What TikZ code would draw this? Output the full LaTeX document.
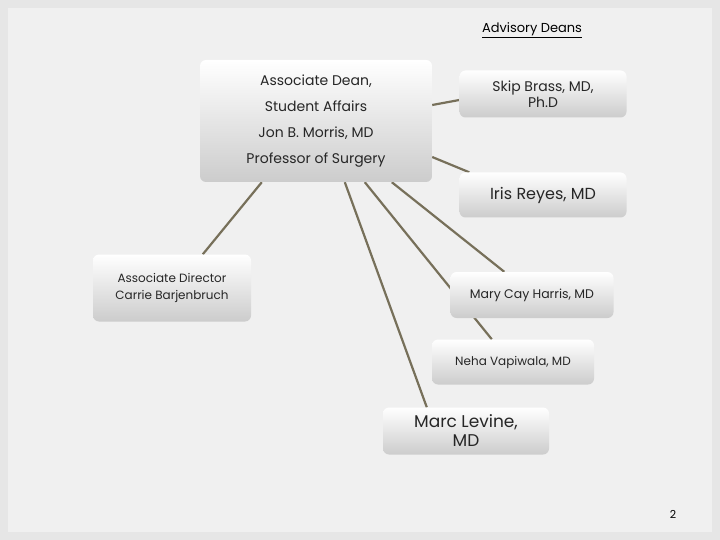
\documentclass[tikz,border=0pt]{standalone}
\usepackage{fontspec}
\setmainfont{Poppins}
\usetikzlibrary{backgrounds}
\pgfdeclarelayer{bottom}
\pgfsetlayers{bottom,background,main}
\definecolor{bg}{HTML}{E6E6E6}
\definecolor{ln}{HTML}{77705A}
\tikzset{
  box/.style={rounded corners=6pt, top color=white, bottom color=black!20, draw=none, align=center, inner sep=0pt, text=black!85},
  conn/.style={draw=ln, line width=2.2pt}
}
\begin{document}
\begin{tikzpicture}[x=1pt,y=-1pt]
\useasboundingbox (0,0) rectangle (720,540);
\begin{pgfonlayer}{bottom}
\fill[bg] (0,0) rectangle (720,540);
\fill[white!40!bg] (8,8) rectangle (712,532);
\end{pgfonlayer}
\node[font=\fontsize{13}{15}\selectfont] (title) at (532,30) {\underline{Advisory Deans}};
\node[box, minimum width=232pt, minimum height=122pt, font=\fontsize{14}{26}\selectfont] (main) at (316,121) {Associate Dean,\\Student Affairs\\Jon B. Morris, MD\\Professor of Surgery};
\node[box, minimum width=167pt, minimum height=47pt, font=\fontsize{14}{16}\selectfont] (skip) at (543,94) {Skip Brass, MD,\\Ph.D};
\node[box, minimum width=167pt, minimum height=45pt, font=\fontsize{16}{18}\selectfont] (iris) at (543,195) {Iris Reyes, MD};
\node[box, minimum width=158pt, minimum height=67pt, font=\fontsize{12}{17}\selectfont] (assoc) at (172,288) {Associate Director\\Carrie Barjenbruch};
\node[box, minimum width=163pt, minimum height=46pt, font=\fontsize{12.5}{15}\selectfont] (mary) at (532,295) {Mary Cay Harris, MD};
\node[box, minimum width=162pt, minimum height=45pt, font=\fontsize{12}{15}\selectfont] (neha) at (513,362) {Neha Vapiwala, MD};
\node[box, minimum width=166pt, minimum height=47pt, font=\fontsize{17}{19}\selectfont] (marc) at (466,431) {Marc Levine,\\MD};
\node[font=\fontsize{11}{13}\selectfont] (pg) at (673,514) {2};
\begin{pgfonlayer}{background}
\draw[conn] ([yshift=16pt]main.east) -- ([yshift=-6pt]skip.west);
\draw[conn] ([yshift=-36pt]main.east) -- ([xshift=10pt]iris.north west);
\draw[conn] ([xshift=62pt]main.south west) -- ([xshift=110pt]assoc.north west);
\draw[conn] ([xshift=145pt]main.south west) -- ([xshift=44pt]marc.north west);
\draw[conn] ([xshift=165pt]main.south west) -- ([xshift=60pt]neha.north west);
\draw[conn] ([xshift=192pt]main.south west) -- ([xshift=54pt]mary.north west);
\end{pgfonlayer}
\end{tikzpicture}
\end{document}
